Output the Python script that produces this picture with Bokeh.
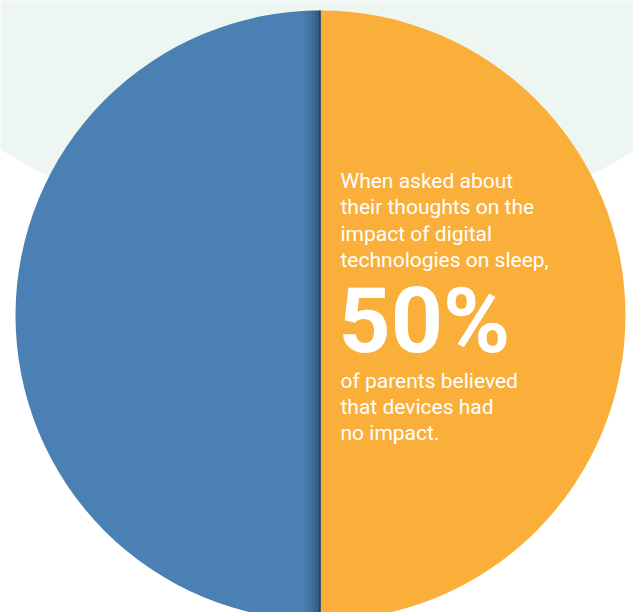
import numpy as np
from bokeh.plotting import figure
from bokeh.models import Range1d, ColumnDataSource
from bokeh.core.properties import value
from bokeh.embed import file_html
from bokeh.resources import INLINE

# ---- data ----
categories = ["Believed devices had no impact", "Other responses"]
shares = [50, 50]
colors = ["#f9af3a", "#4a80b3"]
headline = "50%"
intro_lines = ["When asked about", "their thoughts on the", "impact of digital", "technologies on sleep,"]
outro_lines = ["of parents believed", "that devices had", "no impact."]

# ---- layout ----
W, H = 633, 612
CX, CY, R = 320, H - 315, 305

p = figure(width=W, height=H, x_range=Range1d(0, W), y_range=Range1d(0, H),
           output_backend="svg", toolbar_location=None,
           x_axis_type=None, y_axis_type=None, min_border=0)
p.outline_line_color = None
p.background_fill_color = "white"
p.border_fill_color = "white"
p.grid.visible = False

# soft backdrop disc
p.circle(x=[318], y=[H + 353], radius=594, fill_color="#eef6f2", line_color=None)

# pie
fr = np.array(shares, dtype=float) / sum(shares)
cum = np.concatenate([[0], np.cumsum(fr)])
starts = np.pi / 2 - 2 * np.pi * cum[:-1]
ends = np.pi / 2 - 2 * np.pi * cum[1:]
src = ColumnDataSource(dict(cat=categories, start=starts, end=ends, color=colors))
p.wedge(x=CX, y=CY, radius=R, start_angle="start", end_angle="end", direction="clock",
        fill_color="color", line_color=None, source=src)

# inner shadow on the left of the divider
n = 12
w = 20.0 / n
for i in range(n):
    d_out = 20 - i * w
    half = np.sqrt(R ** 2 - d_out ** 2)
    a = 0.45 * ((i + 1) / n) ** 2
    p.quad(left=[CX - d_out], right=[CX - d_out + w], bottom=[CY - half], top=[CY + half],
           fill_color="#0d1e33", fill_alpha=a, line_color=None)
p.segment(x0=[CX - 0.5], y0=[CY - R], x1=[CX - 0.5], y1=[CY + R],
          line_color="#22364e", line_width=1.2)

FONT = value("Roboto")
SH = 0.35  # renderer baseline offset compensation (fraction of font size)
small, big = 21, 91
p.text(x=[340] * 4, y=[H - (b - SH * small) for b in (188, 214, 241, 267)], text=intro_lines,
       text_color="white", text_font=FONT, text_font_size=f"{small}px", text_baseline="alphabetic")
p.text(x=[338], y=[H - (352 - SH * big)], text=[headline], text_color="white",
       text_font=FONT, text_font_style="bold",
       text_font_size=f"{big}px", text_baseline="alphabetic")
p.text(x=[340] * 3, y=[H - (b - SH * small) for b in (388, 414, 440)], text=outro_lines,
       text_color="white", text_font=FONT, text_font_size=f"{small}px", text_baseline="alphabetic")

open("out.html", "w").write(file_html(p, INLINE))
